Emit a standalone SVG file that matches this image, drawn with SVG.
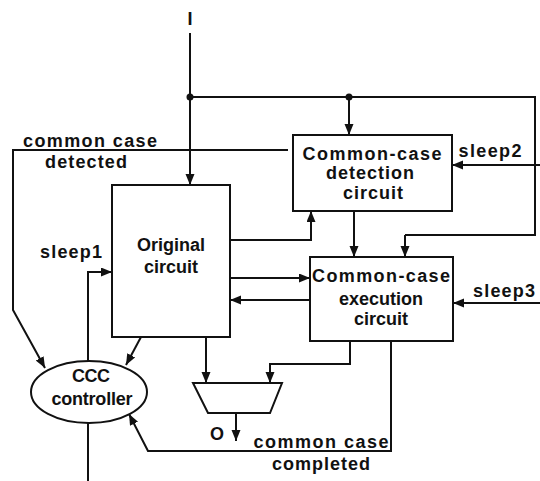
<svg xmlns="http://www.w3.org/2000/svg" width="540" height="481" viewBox="0 0 540 481">
<style>
  .ln{fill:none;stroke:#111;stroke-width:2;stroke-linejoin:miter}
  .bx{fill:#fff;stroke:#111;stroke-width:2}
  .t{font-family:"Liberation Sans",Arial,sans-serif;font-weight:bold;font-size:18px;fill:#111;text-anchor:middle}
  .a{marker-end:url(#ah)}
</style>
<defs>
  <marker id="ah" markerUnits="userSpaceOnUse" markerWidth="12" markerHeight="10" refX="11" refY="4.5" orient="auto">
    <path d="M0,0 L11,4.5 L0,9 z" fill="#111"/>
  </marker>
</defs>
<rect width="540" height="481" fill="#fff"/>
<g id="connectors">
  <!-- input I -->
  <path class="ln a" d="M190,33 V185"/>
  <path class="ln" d="M190,97 H535 V235 H405"/>
  <path class="ln a" d="M405,235 V257"/>
  <circle cx="190" cy="97" r="3.5" fill="#111"/>
  <circle cx="349" cy="97" r="3.5" fill="#111"/>
  <path class="ln a" d="M349,97 V135"/>
  <!-- common case detected -->
  <path class="ln a" d="M288,150 H13 V310 L45,368"/>
  <!-- sleep2, sleep3 -->
  <path class="ln a" d="M540,165 H452"/>
  <path class="ln a" d="M540,303 H453"/>
  <!-- original to detection -->
  <path class="ln a" d="M230,240 H311 V211"/>
  <!-- detection to execution -->
  <path class="ln a" d="M354,211 V257"/>
  <!-- original <-> execution -->
  <path class="ln a" d="M230,278 H310"/>
  <path class="ln a" d="M310,300 H230"/>
  <!-- sleep1 -->
  <path class="ln a" d="M88,361 V272 H112"/>
  <!-- original to ccc -->
  <path class="ln a" d="M141,337 L126,365"/>
  <!-- to mux -->
  <path class="ln a" d="M206,337 V383"/>
  <path class="ln a" d="M350,341 V364 H270 V383"/>
  <!-- output O -->
  <path class="ln a" d="M236,413 V441"/>
  <!-- common case completed -->
  <path class="ln a" d="M391,341 V451 H148 L129,414"/>
  <!-- ccc bottom -->
  <path class="ln" d="M88,423 V481"/>
</g>
<g id="original">
  <rect class="bx" x="112" y="185" width="118" height="152"/>
  <text class="t" x="171" y="251">Original</text>
  <text class="t" x="171" y="273">circuit</text>
</g>
<g id="detection">
  <rect class="bx" x="293" y="135" width="159" height="76"/>
  <text class="t" x="372" y="160" textLength="139" lengthAdjust="spacing">Common-case</text>
  <text class="t" x="370" y="179" textLength="88" lengthAdjust="spacing">detection</text>
  <text class="t" x="373" y="199" textLength="60" lengthAdjust="spacing">circuit</text>
</g>
<g id="execution">
  <rect class="bx" x="310" y="257" width="143" height="84"/>
  <text class="t" x="381" y="282" textLength="138" lengthAdjust="spacing">Common-case</text>
  <text class="t" x="381" y="305">execution</text>
  <text class="t" x="381" y="325">circuit</text>
</g>
<g id="ccc">
  <ellipse class="bx" cx="89" cy="392" rx="58" ry="31"/>
  <text class="t" x="91" y="382" textLength="38" lengthAdjust="spacing">CCC</text>
  <text class="t" x="92" y="405" textLength="81" lengthAdjust="spacing">controller</text>
</g>
<g id="mux">
  <path class="bx" d="M193,383 H282 L270,413 H208 Z"/>
</g>
<g id="labels">
  <text class="t" x="190" y="25">I</text>
  <text class="t" x="90" y="147" textLength="134" lengthAdjust="spacing">common case</text>
  <text class="t" x="86" y="168" textLength="82" lengthAdjust="spacing">detected</text>
  <text class="t" x="490" y="157" textLength="63" lengthAdjust="spacing">sleep2</text>
  <text class="t" x="504" y="297" textLength="62" lengthAdjust="spacing">sleep3</text>
  <text class="t" x="71" y="258" textLength="62" lengthAdjust="spacing">sleep1</text>
  <text class="t" x="217" y="440">O</text>
  <text class="t" x="321" y="448" textLength="135" lengthAdjust="spacing">common case</text>
  <text class="t" x="321" y="470" textLength="98" lengthAdjust="spacing">completed</text>
</g>
</svg>
